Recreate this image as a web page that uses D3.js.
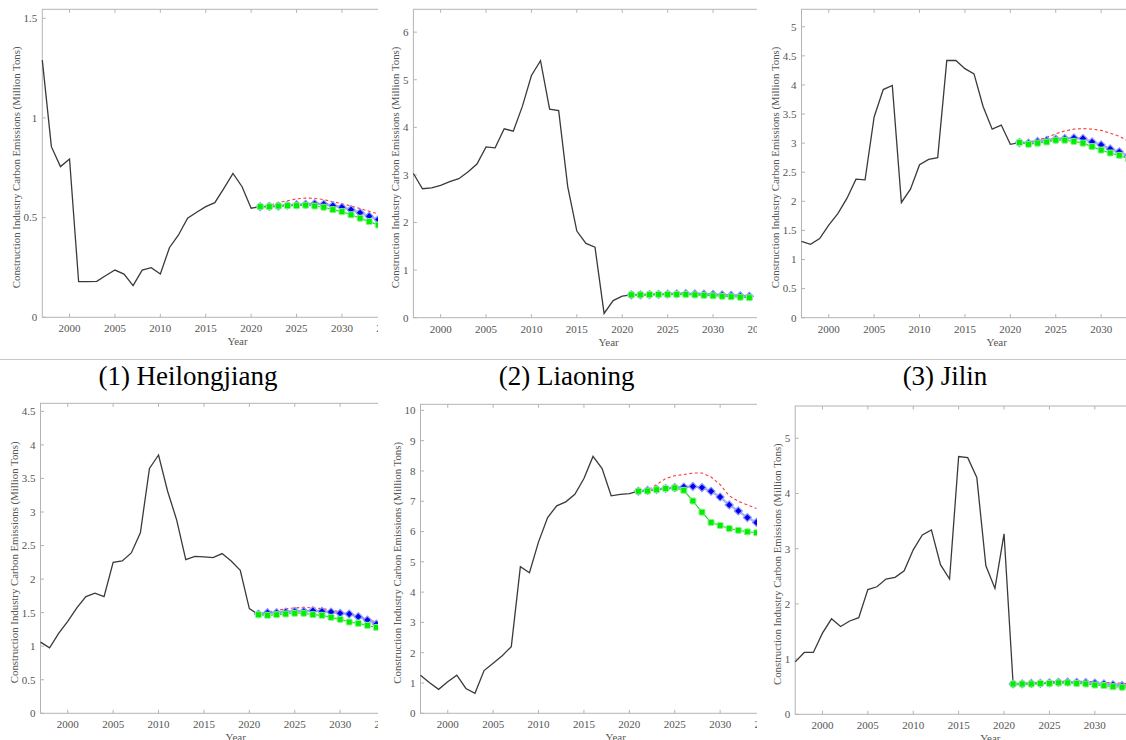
<!DOCTYPE html>
<html>
<head>
<meta charset="utf-8">
<script src="https://cdn.jsdelivr.net/npm/d3@7"></script>
<style>
  body { margin: 0; background: #fff; }
  svg { display: block; font-family: "Liberation Serif", "Times New Roman", serif; }
</style>
</head>
<body>
<div id="chart"></div>
<script>
// years
var histYears = d3.range(1997, 2021);
var foreYears = d3.range(2021, 2035);

// captions under the top row
var captions = ["(1) Heilongjiang", "(2) Liaoning", "(3) Jilin"];

// y axis limits and ticks for each panel
var yMax = [1.545, 6.48, 5.3, 4.62, 10.2, 5.585];
var yTicks = [
  [0, 0.5, 1, 1.5],
  [0, 1, 2, 3, 4, 5, 6],
  [0, 0.5, 1, 1.5, 2, 2.5, 3, 3.5, 4, 4.5, 5],
  [0, 0.5, 1, 1.5, 2, 2.5, 3, 3.5, 4, 4.5],
  [0, 1, 2, 3, 4, 5, 6, 7, 8, 9, 10],
  [0, 1, 2, 3, 4, 5]
];
var xTicks = [2000, 2005, 2010, 2015, 2020, 2025, 2030, 2035];

// historical emissions 1997-2020
var hist1 = [1.29, 0.856, 0.756, 0.794, 0.179, 0.179, 0.18, 0.21, 0.237, 0.217, 0.159, 0.237, 0.249, 0.217, 0.349, 0.413, 0.497, 0.527, 0.555, 0.575, 0.647, 0.722, 0.655, 0.547];
var hist2 = [3.03, 2.71, 2.73, 2.78, 2.86, 2.92, 3.06, 3.23, 3.59, 3.57, 3.97, 3.92, 4.44, 5.09, 5.40, 4.38, 4.35, 2.75, 1.82, 1.56, 1.48, 0.09, 0.36, 0.455];
var hist3 = [1.31, 1.26, 1.36, 1.59, 1.79, 2.05, 2.38, 2.37, 3.45, 3.92, 3.99, 1.98, 2.21, 2.63, 2.72, 2.75, 4.42, 4.42, 4.28, 4.19, 3.63, 3.24, 3.31, 2.98];
var hist4 = [1.06, 0.975, 1.19, 1.37, 1.57, 1.74, 1.79, 1.74, 2.25, 2.27, 2.39, 2.69, 3.65, 3.85, 3.31, 2.88, 2.29, 2.34, 2.33, 2.32, 2.38, 2.27, 2.13, 1.56];
var hist5 = [1.26, 1.01, 0.79, 1.04, 1.26, 0.82, 0.66, 1.41, 1.65, 1.90, 2.20, 4.84, 4.64, 5.66, 6.46, 6.85, 6.98, 7.23, 7.75, 8.48, 8.08, 7.18, 7.23, 7.25];
var hist6 = [0.95, 1.12, 1.12, 1.47, 1.73, 1.59, 1.69, 1.75, 2.26, 2.31, 2.45, 2.48, 2.60, 2.98, 3.25, 3.34, 2.71, 2.45, 4.67, 4.65, 4.29, 2.69, 2.28, 3.27];

// forecast scenarios 2021-2034: red dashed, blue diamonds, green squares
var red1 = [0.555, 0.562, 0.575, 0.585, 0.594, 0.598, 0.597, 0.59, 0.58, 0.57, 0.558, 0.545, 0.532, 0.518];
var blue1 = [0.555, 0.556, 0.558, 0.562, 0.565, 0.567, 0.57, 0.567, 0.56, 0.552, 0.54, 0.524, 0.507, 0.49];
var green1 = [0.555, 0.555, 0.558, 0.56, 0.56, 0.562, 0.558, 0.552, 0.54, 0.53, 0.514, 0.497, 0.48, 0.463];

var red2 = [0.48, 0.485, 0.49, 0.5, 0.51, 0.515, 0.52, 0.515, 0.51, 0.5, 0.49, 0.48, 0.47, 0.46];
var blue2 = [0.48, 0.48, 0.485, 0.49, 0.495, 0.5, 0.505, 0.5, 0.495, 0.49, 0.48, 0.47, 0.46, 0.45];
var green2 = [0.48, 0.48, 0.485, 0.49, 0.49, 0.49, 0.49, 0.48, 0.47, 0.46, 0.45, 0.44, 0.43, 0.42];

var red3 = [3.01, 3.02, 3.05, 3.1, 3.16, 3.21, 3.24, 3.25, 3.24, 3.22, 3.17, 3.12, 3.03, 2.95];
var blue3 = [3.01, 3.0, 3.03, 3.05, 3.07, 3.08, 3.09, 3.08, 3.02, 2.97, 2.9, 2.85, 2.78, 2.72];
var green3 = [3.01, 2.98, 3.0, 3.02, 3.05, 3.05, 3.03, 3.0, 2.94, 2.88, 2.83, 2.79, 2.73, 2.67];

var red4 = [1.48, 1.51, 1.53, 1.56, 1.57, 1.58, 1.57, 1.56, 1.54, 1.51, 1.48, 1.44, 1.40, 1.36];
var blue4 = [1.48, 1.5, 1.5, 1.51, 1.52, 1.52, 1.53, 1.52, 1.51, 1.49, 1.48, 1.44, 1.39, 1.33];
var green4 = [1.47, 1.46, 1.47, 1.48, 1.49, 1.49, 1.47, 1.46, 1.43, 1.40, 1.36, 1.34, 1.31, 1.28];

var red5 = [7.33, 7.36, 7.55, 7.75, 7.84, 7.88, 7.93, 7.93, 7.8, 7.55, 7.18, 7.0, 6.88, 6.76];
var blue5 = [7.33, 7.36, 7.39, 7.42, 7.45, 7.47, 7.49, 7.45, 7.33, 7.14, 6.88, 6.68, 6.46, 6.3];
var green5 = [7.33, 7.34, 7.38, 7.42, 7.44, 7.36, 7.01, 6.64, 6.30, 6.2, 6.10, 6.04, 5.99, 5.96];

var red6 = [0.55, 0.56, 0.57, 0.58, 0.59, 0.6, 0.6, 0.6, 0.6, 0.59, 0.58, 0.57, 0.56, 0.55];
var blue6 = [0.55, 0.55, 0.56, 0.56, 0.57, 0.58, 0.585, 0.58, 0.575, 0.565, 0.55, 0.535, 0.52, 0.51];
var green6 = [0.55, 0.55, 0.55, 0.56, 0.56, 0.57, 0.57, 0.56, 0.55, 0.53, 0.52, 0.50, 0.49, 0.48];

var hists = [hist1, hist2, hist3, hist4, hist5, hist6];
var reds = [red1, red2, red3, red4, red5, red6];
var blues = [blue1, blue2, blue3, blue4, blue5, blue6];
var greens = [green1, green2, green3, green4, green5, green6];

// layout of the six cropped panels
var panels = [
  {clip: [0, 0, 378, 359], left: 42.3, top: 9.3, bottom: 317.3},
  {clip: [378, 0, 379, 359], left: 413.4, top: 9.3, bottom: 317.7},
  {clip: [757, 0, 369, 359], left: 801.5, top: 9.3, bottom: 317.7},
  {clip: [0, 395, 378, 345], left: 40.5, top: 403.3, bottom: 713.3},
  {clip: [378, 395, 379, 345], left: 420.5, top: 404.3, bottom: 713.3},
  {clip: [757, 395, 369, 345], left: 795.2, top: 406, bottom: 714.3}
];
var pxPerYear = 9.08;
var yLabel = "Construction Industry Carbon Emissions (Million Tons)";
var axisColor = "#b4b4b4", textColor = "#555";

var svg = d3.select("#chart")
  .append("svg")
    .attr("width", 1126)
    .attr("height", 740);

// separator under the top row
svg.append("line")
    .attr("x1", 0).attr("x2", 1126)
    .attr("y1", 359.5).attr("y2", 359.5)
    .style("stroke", "#c8c8c8").style("stroke-width", 1);

captions.forEach(function(c, i) {
  svg.append("text")
      .attr("x", [188, 566.7, 945][i])
      .attr("y", 385)
      .attr("text-anchor", "middle")
      .style("font-size", "27px")
      .style("fill", "#000")
      .text(c);
});

// blue diamond: square turned 45 degrees
var diamond = d3.symbol().type(d3.symbolSquare).size(32);

panels.forEach(function(p, i) {
  var x = d3.scaleLinear([1997, 2040], [p.left, p.left + pxPerYear * 43]);
  var y = d3.scaleLinear([0, yMax[i]], [p.bottom, p.top]);

  svg.append("clipPath").attr("id", "clip" + i)
    .append("rect")
      .attr("x", p.clip[0]).attr("y", p.clip[1])
      .attr("width", p.clip[2]).attr("height", p.clip[3]);

  var g = svg.append("g").attr("clip-path", "url(#clip" + i + ")");

  // box
  g.append("rect")
      .attr("x", x.range()[0]).attr("y", p.top)
      .attr("width", x.range()[1] - x.range()[0])
      .attr("height", p.bottom - p.top)
      .style("fill", "none").style("stroke", axisColor).style("stroke-width", 1);

  // ticks pointing inward, bottom and top
  xTicks.forEach(function(t) {
    g.append("line")
        .attr("x1", x(t)).attr("x2", x(t))
        .attr("y1", p.bottom).attr("y2", p.bottom - 3.5)
        .style("stroke", axisColor);
    g.append("line")
        .attr("x1", x(t)).attr("x2", x(t))
        .attr("y1", p.top).attr("y2", p.top + 3.5)
        .style("stroke", axisColor);
    g.append("text")
        .attr("x", x(t)).attr("y", p.bottom + 15)
        .attr("text-anchor", "middle")
        .style("font-size", "11px").style("fill", textColor)
        .text(t);
  });

  var maxW = 0;
  yTicks[i].forEach(function(t) {
    g.append("line")
        .attr("x1", p.left).attr("x2", p.left + 3.5)
        .attr("y1", y(t)).attr("y2", y(t))
        .style("stroke", axisColor);
    var lab = g.append("text")
        .attr("x", p.left - 5).attr("y", y(t))
        .attr("dy", "0.35em")
        .attr("text-anchor", "end")
        .style("font-size", "11px").style("fill", textColor)
        .text(t);
    maxW = Math.max(maxW, lab.node().getComputedTextLength());
  });

  var cy = (p.top + p.bottom) / 2 + 4;
  var lx = p.left - maxW - 12.5;
  g.append("text")
      .attr("transform", "translate(" + lx + "," + cy + ") rotate(-90)")
      .attr("text-anchor", "middle")
      .attr("dy", "0.35em")
      .style("font-size", "10.8px").style("fill", textColor)
      .text(yLabel);

  g.append("text")
      .attr("x", (x.range()[0] + x.range()[1]) / 2)
      .attr("y", p.bottom + 28)
      .attr("text-anchor", "middle")
      .style("font-size", "11px").style("fill", textColor)
      .text("Year");

  var line = d3.line()
      .x(function(d) { return x(d[0]); })
      .y(function(d) { return y(d[1]); });

  // history joined to the first forecast point
  var h = histYears.map(function(yr, k) { return [yr, hists[i][k]]; });
  h.push([foreYears[0], greens[i][0]]);
  g.append("path")
      .attr("d", line(h))
      .style("fill", "none").style("stroke", "#3a3a3a").style("stroke-width", 1.3);

  var r = foreYears.map(function(yr, k) { return [yr, reds[i][k]]; });
  var b = foreYears.map(function(yr, k) { return [yr, blues[i][k]]; });
  var gr = foreYears.map(function(yr, k) { return [yr, greens[i][k]]; });

  g.append("path")
      .attr("d", line(r))
      .style("fill", "none").style("stroke", "#ff3b3b")
      .style("stroke-width", 1.1).style("stroke-dasharray", "3,2.5");

  g.append("path")
      .attr("d", line(b))
      .style("fill", "none").style("stroke", "#8592ff")
      .style("stroke-width", 2.4).style("opacity", 0.7);
  g.selectAll(".dia" + i)
    .data(b)
    .enter()
    .append("path")
      .attr("transform", function(d) { return "translate(" + x(d[0]) + "," + y(d[1]) + ") rotate(45)"; })
      .attr("d", diamond)
      .style("fill", "#0000f0").style("stroke", "#8c97ff").style("stroke-width", 1.2);

  g.append("path")
      .attr("d", line(gr))
      .style("fill", "none").style("stroke", "#2bd12b").style("stroke-width", 1.1);
  g.selectAll(".sq" + i)
    .data(gr)
    .enter()
    .append("rect")
      .attr("x", function(d) { return x(d[0]) - 3; })
      .attr("y", function(d) { return y(d[1]) - 3; })
      .attr("width", 6).attr("height", 6).attr("rx", 1.2)
      .style("fill", "#00ee00").style("stroke", "#8cf58c").style("stroke-width", 1);
});
</script>
</body>
</html>
